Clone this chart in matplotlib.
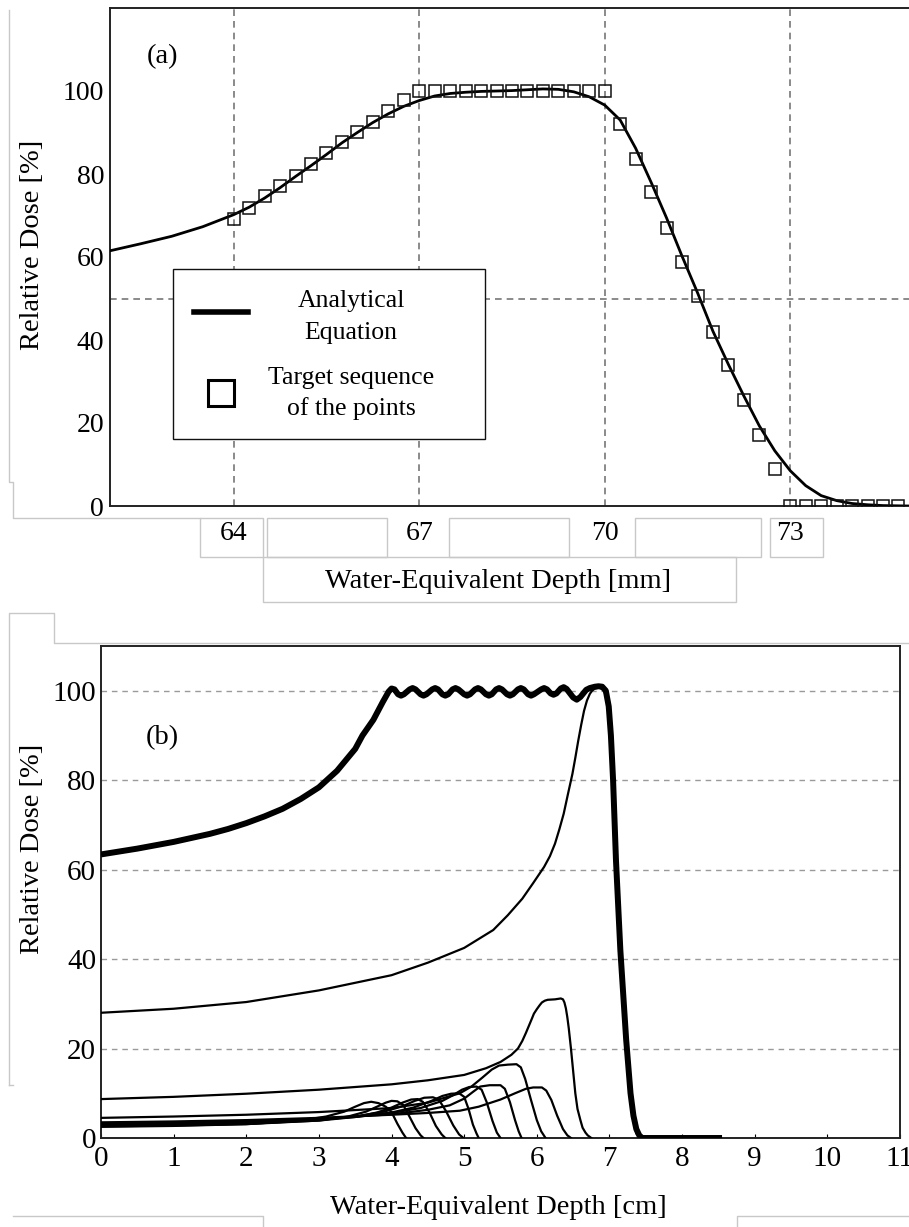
import matplotlib
matplotlib.use("Agg")
import matplotlib.pyplot as plt
from matplotlib.patches import Rectangle
from matplotlib.lines import Line2D
from matplotlib.ticker import FixedLocator

plt.rcParams['font.family'] = ['Liberation Serif', 'DejaVu Serif']

# ---------------- Panel (a) data ----------------
a_curve_x = [62.0, 62.5, 63.0, 63.5, 64.0, 64.25, 64.5, 64.75, 65.0, 65.25, 65.5, 65.75,
             66.0, 66.25, 66.5, 66.75, 67.0, 67.25, 67.5, 67.75, 68.0, 68.5, 69.0, 69.25,
             69.5, 69.75, 70.0, 70.25, 70.5, 70.75, 71.0, 71.25, 71.5, 71.75, 72.0, 72.25,
             72.5, 72.75, 73.0, 73.25, 73.5, 73.75, 74.0, 74.25, 74.5, 74.92]
a_curve_y = [61.5, 63.2, 65.0, 67.3, 70.2, 72.0, 74.2, 76.7, 79.4, 82.0, 84.7, 87.5,
             90.0, 92.4, 94.5, 96.3, 97.7, 98.8, 99.4, 99.7, 99.9, 100.1, 100.5, 100.4,
             99.8, 98.6, 96.6, 93.0, 86.2, 78.0, 69.4, 60.2, 51.4, 42.1, 34.1, 26.5,
             19.3, 13.3, 8.5, 4.9, 2.5, 1.3, 0.6, 0.3, 0.1, 0.0]

a_points_x = [64.0, 64.25, 64.5, 64.75, 65.0, 65.25, 65.5, 65.75, 66.0, 66.25, 66.5, 66.75,
              67.0, 67.25, 67.5, 67.75, 68.0, 68.25, 68.5, 68.75, 69.0, 69.25, 69.5, 69.75, 70.0,
              70.25, 70.5, 70.75, 71.0, 71.25, 71.5, 71.75, 72.0, 72.25, 72.5, 72.75,
              73.0, 73.25, 73.5, 73.75, 74.0, 74.25, 74.5, 74.75]
a_points_y = [69.2, 71.7, 74.6, 77.2, 79.6, 82.4, 85.0, 87.6, 90.0, 92.5, 95.3, 97.8,
              100.0, 100.0, 100.0, 100.0, 100.0, 100.0, 100.0, 100.0, 100.0, 100.0, 100.0, 100.0, 100.0,
              92.0, 83.6, 75.6, 67.0, 58.9, 50.6, 42.0, 33.9, 25.6, 17.1, 8.9,
              0.0, 0.0, 0.0, 0.0, 0.0, 0.0, 0.0, 0.0]

a_xticks = [64, 67, 70, 73]
a_yticks = [0, 20, 40, 60, 80, 100]
a_ygrid = [0, 50, 100]

# ---------------- Panel (b) data ----------------
sobp_x = [0, 0.5, 1, 1.5, 1.75, 2, 2.25, 2.5, 2.75, 3, 3.25, 3.5, 3.6, 3.75, 3.88, 3.96, 4.0,
          4.04, 4.09, 4.13,
          4.17, 4.25, 4.29, 4.33, 4.40, 4.44, 4.48, 4.56, 4.60, 4.64, 4.70, 4.74, 4.78, 4.84,
          4.88, 4.92, 5.00, 5.04, 5.08, 5.15, 5.19, 5.23, 5.30, 5.34, 5.38, 5.44, 5.48, 5.52,
          5.59, 5.63, 5.67, 5.74, 5.78, 5.82, 5.88, 5.92, 5.96, 6.06, 6.10, 6.14, 6.19, 6.23,
          6.27, 6.33, 6.37, 6.41, 6.50, 6.55, 6.60, 6.68, 6.73, 6.80, 6.85, 6.90, 6.95, 6.99,
          7.02, 7.05, 7.09, 7.15, 7.23, 7.29, 7.33, 7.37, 7.41, 7.45, 8.55]
sobp_y = [63.4, 64.7, 66.2, 68.0, 69.1, 70.4, 71.9, 73.6, 75.8, 78.4, 82.1, 87.0, 90.0, 93.5,
          97.5, 99.8, 100.5,
          100.3, 99.2, 98.9, 99.2, 100.3, 100.6, 100.3, 99.2, 98.9, 99.2, 100.3, 100.6, 100.3,
          99.2, 98.9, 99.2, 100.3, 100.6, 100.3, 99.2, 98.9, 99.2, 100.3, 100.6, 100.3, 99.2,
          98.9, 99.2, 100.3, 100.6, 100.3, 99.2, 98.9, 99.2, 100.3, 100.6, 100.3, 99.2, 98.9,
          99.2, 100.3, 100.6, 100.3, 99.4, 99.1, 99.4, 100.5, 100.8, 100.4, 98.5, 98.0, 98.6,
          100.2, 100.6, 100.9, 101.0, 100.9, 100.0, 96.5, 90.0, 80.0, 62.0, 42.0, 22.0, 10.0,
          5.0, 2.0, 0.6, 0.0, 0.0]

peak1_x = [0, 1, 2, 3, 4, 4.5, 5, 5.4, 5.6, 5.8, 5.95, 6.1, 6.18, 6.25, 6.31, 6.37, 6.43,
           6.49, 6.53, 6.57, 6.61, 6.65, 6.69, 6.73, 6.76, 6.8, 6.86, 6.92, 6.97, 7.01,
           7.05, 7.09, 7.15, 7.23, 7.29, 7.37, 7.45]
peak1_y = [28.0, 28.9, 30.4, 33.0, 36.4, 39.2, 42.5, 46.5, 49.8, 53.5, 57.0, 60.6, 63.0,
           65.8, 69.0, 72.5, 77.0, 81.4, 85.0, 88.8, 92.3, 95.5, 97.8, 99.3, 100.0, 100.5,
           100.7, 100.2, 98.0, 93.0, 80.0, 60.0, 40.0, 20.0, 8.0, 1.0, 0.0]

peak2_x = [0, 1, 2, 3, 4, 4.5, 5.0, 5.3, 5.5, 5.65, 5.74, 5.8, 5.85, 5.93, 5.96, 6.0, 6.04,
           6.07, 6.11, 6.15, 6.25, 6.33, 6.36, 6.38, 6.40, 6.42, 6.44, 6.47, 6.5, 6.53, 6.56,
           6.6, 6.63, 6.67, 6.7, 6.75]
peak2_y = [8.7, 9.2, 9.9, 10.8, 12.0, 12.9, 14.1, 15.6, 17.0, 18.6, 20.0, 21.7, 23.5, 26.6,
           27.8, 28.8, 29.7, 30.3, 30.7, 30.9, 31.0, 31.2, 31.0, 30.3, 29.0, 27.0, 24.5,
           20.0, 15.0, 10.0, 6.5, 4.0, 2.3, 1.2, 0.6, 0.0]

peak3_x = [0, 1, 2, 3, 4, 4.5, 4.94, 5.1, 5.25, 5.38, 5.48, 5.6, 5.72, 5.78, 5.84, 5.92, 6.0,
           6.06, 6.12]
peak3_y = [4.5, 4.8, 5.2, 5.8, 6.7, 7.9, 10.0, 11.5, 13.5, 15.3, 16.2, 16.4, 16.5, 15.8,
           13.2, 8.5, 4.0, 1.5, 0.0]

peak4_x = [0, 1, 2, 3, 4, 4.5, 4.94, 5.2, 5.5, 5.7, 5.85, 5.95, 6.07, 6.13, 6.2, 6.28, 6.36,
           6.42, 6.47]
peak4_y = [3.5, 3.7, 4.0, 4.5, 5.2, 5.6, 6.1, 7.0, 8.6, 10.0, 11.0, 11.3, 11.3, 10.6, 8.5,
           5.0, 2.0, 0.6, 0.0]

peak5_x = [0, 1, 2, 3, 4, 4.5, 4.8, 5.0, 5.12, 5.22, 5.35, 5.5, 5.56, 5.63, 5.7, 5.75, 5.79]
peak5_y = [3.3, 3.5, 3.8, 4.3, 5.3, 6.3, 7.3, 8.8, 10.3, 11.5, 11.8, 11.8, 11.0, 8.0, 4.0,
           1.5, 0.0]

peak6_x = [0, 1, 2, 3, 3.5, 4, 4.4, 4.7, 4.85, 4.97, 5.07, 5.17, 5.24, 5.31, 5.39, 5.45, 5.5]
peak6_y = [3.2, 3.4, 3.7, 4.3, 4.8, 5.6, 6.7, 8.3, 9.6, 10.8, 11.4, 11.5, 10.8, 8.0, 3.8,
           1.2, 0.0]

peak7_x = [0, 1, 2, 3, 3.5, 4.0, 4.3, 4.55, 4.7, 4.82, 4.93, 5.0, 5.06, 5.12, 5.17, 5.2]
peak7_y = [3.0, 3.2, 3.5, 4.1, 4.7, 5.7, 6.8, 8.3, 9.4, 9.9, 10.0, 9.2, 6.5, 3.0, 1.0, 0.0]

peak8_x = [0, 1, 2, 3, 3.5, 3.9, 4.15, 4.32, 4.45, 4.57, 4.65, 4.75, 4.85, 4.93, 4.99]
peak8_y = [2.9, 3.1, 3.4, 4.1, 4.8, 5.9, 7.1, 8.3, 9.0, 9.1, 8.6, 6.0, 2.8, 0.8, 0.0]

peak9_x = [0, 1, 2, 3, 3.5, 3.8, 4.0, 4.15, 4.27, 4.36, 4.43, 4.52, 4.61, 4.69, 4.74]
peak9_y = [2.7, 2.9, 3.2, 3.9, 4.7, 5.7, 6.8, 7.9, 8.6, 8.7, 8.1, 5.8, 2.7, 0.8, 0.0]

peak10_x = [0, 1, 2, 3, 3.4, 3.65, 3.8, 3.92, 4.0, 4.08, 4.16, 4.24, 4.33, 4.4, 4.44]
peak10_y = [2.6, 2.8, 3.1, 3.9, 4.8, 5.9, 7.0, 7.9, 8.3, 8.2, 7.4, 5.0, 2.2, 0.6, 0.0]

peak11_x = [0, 1, 2, 2.7, 3.1, 3.35, 3.5, 3.62, 3.72, 3.82, 3.92, 4.0, 4.08, 4.15, 4.2]
peak11_y = [2.5, 2.7, 3.1, 3.8, 4.8, 5.9, 7.0, 7.8, 8.1, 7.8, 7.0, 5.8, 3.2, 1.2, 0.0]

thin_curves = [(peak1_x, peak1_y), (peak2_x, peak2_y), (peak3_x, peak3_y), (peak4_x, peak4_y),
               (peak5_x, peak5_y), (peak6_x, peak6_y), (peak7_x, peak7_y), (peak8_x, peak8_y),
               (peak9_x, peak9_y), (peak10_x, peak10_y), (peak11_x, peak11_y)]

b_xticks = list(range(0, 12))
b_yticks = [0, 20, 40, 60, 80, 100]
b_xgrid = [4, 7]

# ---------------- Figure ----------------
W, H = 909, 1227
fig = plt.figure(figsize=(W / 100, H / 100), dpi=100)
fig.patch.set_facecolor('white')

def fx(px):
    return px / W

def fy(py):
    return 1 - py / H

# Panel (a)
axa = fig.add_axes([fx(110), fy(506), fx(909 - 110), (506 - 8) / H])
axa.set_xlim(62, 74.92)
axa.set_ylim(0, 120)
axa.plot(a_curve_x, a_curve_y, color='black', lw=2.0, solid_joinstyle='round',
         solid_capstyle='round', zorder=3)
axa.plot(a_points_x, a_points_y, linestyle='none', marker='s', markersize=8.8,
         markerfacecolor='none', markeredgecolor='#111111', markeredgewidth=1.1, zorder=4)
axa.xaxis.set_major_locator(FixedLocator(a_xticks))
axa.yaxis.set_major_locator(FixedLocator(a_yticks))
axa.yaxis.set_minor_locator(FixedLocator(a_ygrid))
axa.grid(True, axis='x', which='major', color='#777777', lw=1.2, linestyle=(0, (4, 3)))
axa.grid(True, axis='y', which='minor', color='#777777', lw=1.2, linestyle=(0, (4, 3)))
axa.grid(False, axis='y', which='major')
axa.set_axisbelow(True)
axa.tick_params(axis='both', which='both', length=0)
axa.tick_params(axis='x', labelsize=20, pad=11)
axa.tick_params(axis='y', labelsize=20, pad=4.3)
for s in ['left', 'top', 'bottom']:
    axa.spines[s].set_color('#222222')
    axa.spines[s].set_linewidth(1.4)
axa.spines['right'].set_visible(False)
axa.set_xlabel('Water-Equivalent Depth [mm]', fontsize=20.5)
axa.xaxis.set_label_coords((498.5 - 110) / 799, (506 - 581) / 498)
axa.xaxis.label.set_va('center')
axa.set_ylabel('Relative Dose [%]', fontsize=20.5)
axa.yaxis.set_label_coords((33 - 110) / 799, (506 - 245) / 498)
axa.yaxis.label.set_va('center')

# Panel (b)
axb = fig.add_axes([fx(101), fy(1138), fx(900 - 101), (1138 - 646) / H])
axb.set_xlim(0, 11)
axb.set_ylim(0, 110)
for cx, cy in thin_curves:
    axb.plot(cx, cy, color='black', lw=1.6, solid_joinstyle='round', zorder=3)
axb.plot(sobp_x, sobp_y, color='black', lw=4.3, solid_joinstyle='round',
         solid_capstyle='butt', zorder=4)
axb.xaxis.set_major_locator(FixedLocator(b_xticks))
axb.xaxis.set_minor_locator(FixedLocator(b_xgrid))
axb.yaxis.set_major_locator(FixedLocator(b_yticks))
axb.grid(True, axis='y', which='major', color='#9a9a9a', lw=1.0, linestyle=(0, (4, 3.5)))
axb.grid(True, axis='x', which='minor', color='#9a9a9a', lw=1.0, linestyle=(0, (4, 3.5)))
axb.set_axisbelow(True)
axb.tick_params(axis='x', which='major', direction='in', length=3, width=0.8,
                labelsize=21, pad=6)
axb.tick_params(axis='x', which='minor', length=0)
axb.tick_params(axis='y', length=0, labelsize=21, pad=3.6)
for s in axb.spines.values():
    s.set_color('#222222')
    s.set_linewidth(1.4)
axb.set_xlabel('Water-Equivalent Depth [cm]', fontsize=20.5)
axb.xaxis.set_label_coords((498.5 - 101) / 799, (1138 - 1208) / 492)
axb.xaxis.label.set_va('center')
axb.set_ylabel('Relative Dose [%]', fontsize=20.5)
axb.yaxis.set_label_coords((33 - 101) / 799, (1138 - 849) / 492)
axb.yaxis.label.set_va('center')

# Overlay in pixel coordinates: legend, panel labels and faint frame lines
ov = fig.add_axes([0, 0, 1, 1], zorder=10)
ov.set_xlim(0, W)
ov.set_ylim(H, 0)
ov.axis('off')
ov.patch.set_alpha(0)

ov.text(162, 57, '(a)', fontsize=20.5, ha='center', va='center')
ov.text(162, 738, '(b)', fontsize=20.5, ha='center', va='center')

ov.add_patch(Rectangle((173, 269), 312, 170, facecolor='white', edgecolor='#111111', lw=1.0))
ov.add_line(Line2D([194, 248], [312, 312], color='black', lw=4.0))
ov.plot([221], [393], marker='s', markersize=19, markerfacecolor='none',
        markeredgecolor='black', markeredgewidth=2.2)
ov.text(351, 301, 'Analytical', fontsize=18.5, ha='center', va='center')
ov.text(351, 333, 'Equation', fontsize=18.5, ha='center', va='center')
ov.text(351, 378, 'Target sequence', fontsize=18.5, ha='center', va='center')
ov.text(351, 409, 'of the points', fontsize=18.5, ha='center', va='center')

gray = '#c8c8c8'
for (x0, y0, w, h) in [(200, 518, 63, 39), (267, 518, 120, 39), (449, 518, 120, 39),
                       (635, 518, 126, 39), (770, 518, 53, 39), (263, 557, 473, 45)]:
    ov.add_patch(Rectangle((x0, y0), w, h, facecolor='none', edgecolor=gray, lw=1.0))
ov.plot([9, 9, 13, 13, 200], [10, 482, 482, 518, 518], color=gray, lw=1.0)
ov.plot([9, 9, 54, 54, 909], [1085, 613, 613, 643, 643], color=gray, lw=1.0)
ov.plot([9, 13], [1085, 1085], color=gray, lw=1.0)
ov.plot([13, 263, 263], [1216, 1216, 1227], color=gray, lw=1.0)
ov.plot([737, 737, 909], [1227, 1216, 1216], color=gray, lw=1.0)

fig.savefig('out.png', dpi=100, facecolor='white')
